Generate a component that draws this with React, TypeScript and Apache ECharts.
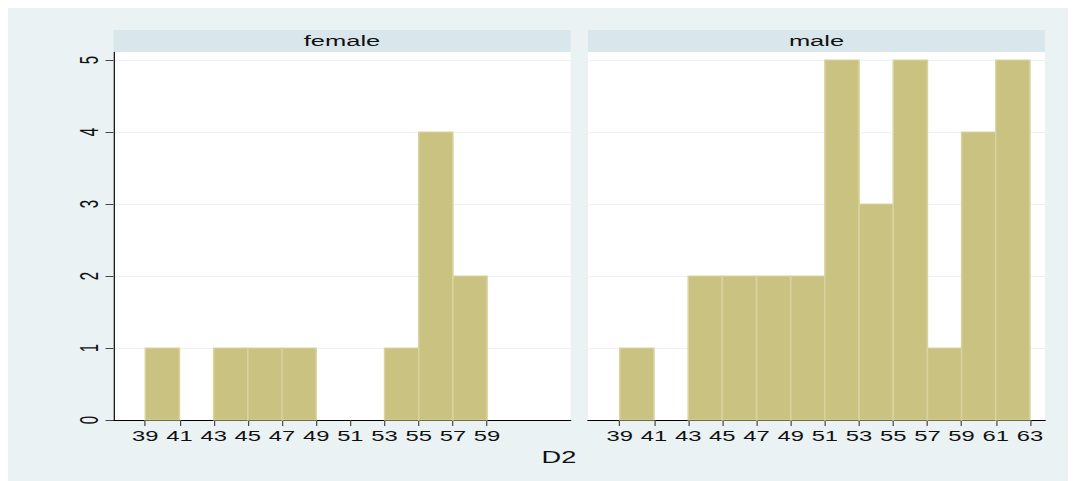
import React, { useEffect, useRef } from "react";
import * as echarts from "echarts";

// Histogram of D2 by sex, bin width 2 starting at 39
const binEdges = [39, 41, 43, 45, 47, 49, 51, 53, 55, 57, 59, 61, 63];
const femaleCounts = [1, 0, 1, 1, 1, 0, 0, 1, 4, 2, 0, 0];
const maleCounts = [1, 0, 2, 2, 2, 2, 5, 3, 5, 1, 4, 5];
const femaleTicks = [39, 41, 43, 45, 47, 49, 51, 53, 55, 57, 59];
const maleTicks = [39, 41, 43, 45, 47, 49, 51, 53, 55, 57, 59, 61, 63];
const yTicks = [0, 1, 2, 3, 4, 5];
const panelTitles = ["female", "male"];
const axisTitle = "D2";

// The graph is drawn narrow and stretched horizontally (wide Stata-like lettering)
const OUTER_W = 1068;
const OUTER_H = 473;
const INNER_W = 628;
const S = OUTER_W / INNER_W;
const nx = (px: number) => (px - 8) / S;

const BG = "#EAF2F3";
const STRIP = "#D9E6EC";
const BAR_FILL = "#C9C280";
const BAR_EDGE = "#D8D3A0";
const FONT = "Liberation Sans";

const PANEL_W = 457 / S;
const PANEL_LEFT = [nx(113.5), nx(588)];
const PLOT_TOP = 44;
const PLOT_BOTTOM = OUTER_H - 412;

function toBins(counts: number[]) {
  const out: number[][] = [];
  counts.forEach((c, i) => {
    if (c > 0) out.push([binEdges[i], binEdges[i + 1], c]);
  });
  return out;
}

const renderBar = (_params: any, api: any) => {
  const p0 = api.coord([api.value(0), api.value(2)]);
  const p1 = api.coord([api.value(1), 0]);
  return {
    type: "rect",
    shape: { x: p0[0], y: p0[1], width: p1[0] - p0[0], height: p1[1] - p0[1] },
    style: { fill: BAR_FILL, stroke: BAR_EDGE, lineWidth: 0.9 },
  };
};

export default function App() {
  const ref = useRef<HTMLDivElement>(null);

  useEffect(() => {
    if (!ref.current) return;
    const chart = echarts.init(ref.current, null, { renderer: "svg" });

    const grids = PANEL_LEFT.map((left) => ({
      left,
      width: PANEL_W,
      top: PLOT_TOP,
      bottom: PLOT_BOTTOM,
      show: true,
      backgroundColor: "#FFFFFF",
      borderWidth: 0,
    }));

    const xAxes = [femaleTicks, maleTicks].map((ticks, i) => ({
      type: "value",
      gridIndex: i,
      min: 37.14,
      max: 63.88,
      axisLine: { show: true, onZero: false, lineStyle: { color: "#000", width: 1 } },
      axisTick: { show: true, length: 6, customValues: ticks, lineStyle: { color: "#444", width: 0.7 } },
      axisLabel: {
        show: true,
        customValues: ticks,
        margin: 9,
        fontSize: 14,
        fontFamily: FONT,
        color: "#111",
      },
      splitLine: { show: false },
    }));

    const yAxes = [0, 1].map((i) => ({
      type: "value",
      gridIndex: i,
      min: 0,
      max: 5.111,
      axisLine: { show: i === 0, lineStyle: { color: "#000", width: 0.7 } },
      axisTick: {
        show: i === 0,
        length: 4.7,
        customValues: yTicks,
        lineStyle: { color: "#444", width: 1 },
      },
      axisLabel: {
        show: i === 0,
        customValues: yTicks,
        rotate: 90,
        margin: 7,
        fontSize: 15,
        fontFamily: FONT,
        color: "#111",
      },
      splitLine: { show: true, lineStyle: { color: BG, width: 1 } },
    }));

    const strips = PANEL_LEFT.map((left, i) => ({
      type: "group",
      left,
      top: 22,
      children: [
        {
          type: "rect",
          shape: { x: 0, y: 0, width: PANEL_W, height: 22 },
          style: { fill: STRIP },
        },
        {
          type: "text",
          x: PANEL_W / 2,
          y: 11,
          style: {
            text: panelTitles[i],
            fontSize: 15,
            fontFamily: FONT,
            fill: "#111",
            textAlign: "center",
            textVerticalAlign: "middle",
          },
        },
      ],
    }));

    chart.setOption({
      animation: false,
      backgroundColor: BG,
      grid: grids,
      xAxis: xAxes,
      yAxis: yAxes,
      graphic: [
        ...strips,
        {
          type: "text",
          x: nx(559),
          y: 450,
          style: {
            text: axisTitle,
            fontSize: 16,
            fontFamily: FONT,
            fill: "#111",
            textAlign: "center",
            textVerticalAlign: "middle",
          },
        },
      ],
      series: [
        {
          type: "custom",
          name: panelTitles[0],
          xAxisIndex: 0,
          yAxisIndex: 0,
          renderItem: renderBar,
          data: toBins(femaleCounts),
        },
        {
          type: "custom",
          name: panelTitles[1],
          xAxisIndex: 1,
          yAxisIndex: 1,
          renderItem: renderBar,
          data: toBins(maleCounts),
        },
      ],
    });

    return () => chart.dispose();
  }, []);

  return (
    <div style={{ width: OUTER_W, height: OUTER_H, overflow: "hidden" }}>
      <div
        ref={ref}
        style={{
          width: INNER_W,
          height: OUTER_H,
          transform: `scaleX(${S})`,
          transformOrigin: "0 0",
        }}
      />
    </div>
  );
}
